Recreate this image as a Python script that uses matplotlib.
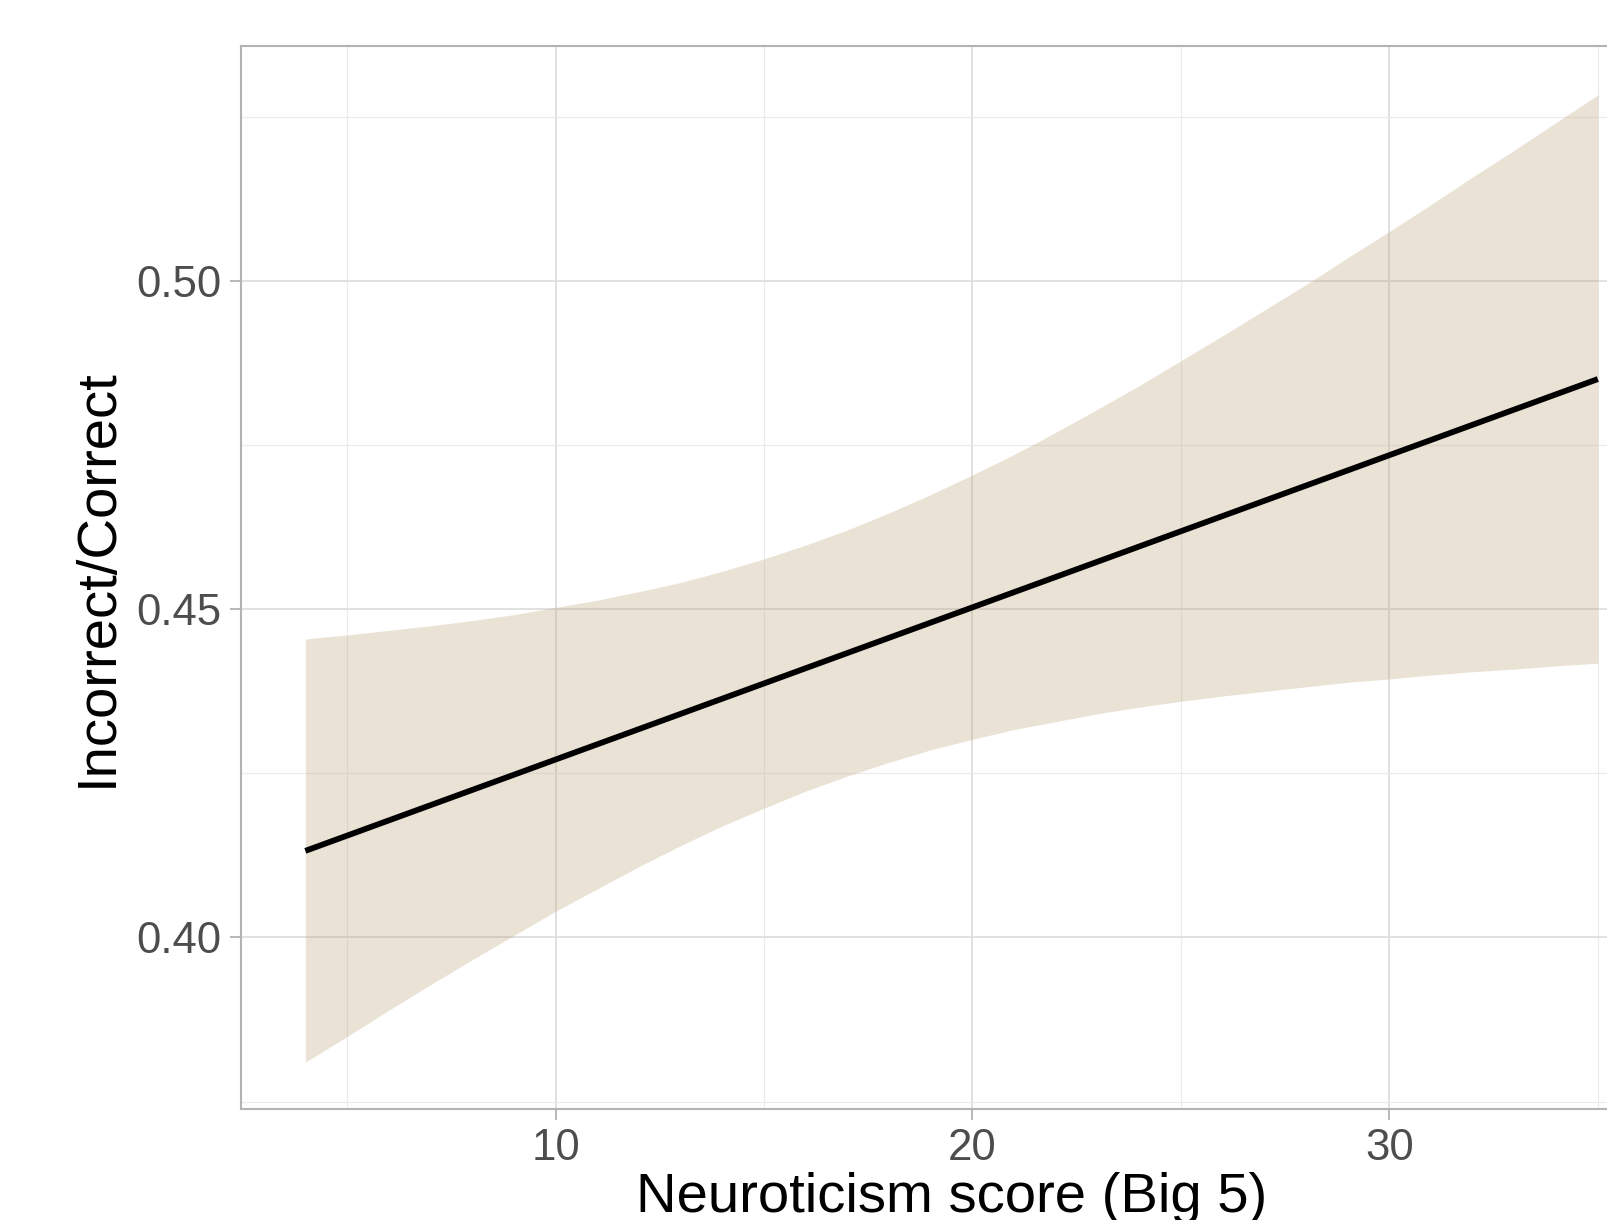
import matplotlib
matplotlib.use("Agg")
import matplotlib.pyplot as plt
from matplotlib.ticker import FixedLocator

# Data
x_vals = [4, 5, 6, 7, 8, 9, 10, 11, 12, 13, 14, 15, 16, 17, 18, 19,
          20, 21, 22, 23, 24, 25, 26, 27, 28, 29, 30, 31, 32, 33, 34, 35]
lower_vals = [0.3810, 0.3849, 0.3889, 0.3928, 0.3966, 0.4003, 0.4040, 0.4074,
              0.4108, 0.4140, 0.4170, 0.4197, 0.4223, 0.4246, 0.4267, 0.4286,
              0.4302, 0.4317, 0.4329, 0.4341, 0.4351, 0.4360, 0.4368, 0.4375,
              0.4382, 0.4389, 0.4394, 0.4400, 0.4405, 0.4409, 0.4414, 0.4418]
upper_vals = [0.4455, 0.4461, 0.4468, 0.4475, 0.4483, 0.4492, 0.4503, 0.4514,
              0.4527, 0.4541, 0.4558, 0.4577, 0.4598, 0.4621, 0.4647, 0.4675,
              0.4705, 0.4736, 0.4770, 0.4805, 0.4841, 0.4879, 0.4917, 0.4956,
              0.4995, 0.5036, 0.5076, 0.5117, 0.5159, 0.5200, 0.5242, 0.5284]
# fitted regression line (straight): end points
line_x = [4, 35]
line_y = [0.4132, 0.4851]
x_ticks = [10, 20, 30]
y_ticks = [0.40, 0.45, 0.50]
y_tick_labels = ["0.40", "0.45", "0.50"]
x_label = "Neuroticism score (Big 5)"
y_label = "Incorrect/Correct"

plt.rcParams['font.family'] = ['Liberation Sans', 'DejaVu Sans']

fig = plt.figure(figsize=(16.07, 12.20), dpi=100)
ax = fig.add_axes([0.1498, 0.0912, 0.8847, 0.8713])

ax.fill_between(x_vals, lower_vals, upper_vals, color=(185/255, 162/255, 118/255),
                alpha=0.3, linewidth=0, zorder=2)
ax.plot(line_x, line_y, color='black', linewidth=4.2, zorder=3,
        solid_capstyle='butt')

ax.set_xlim(2.45, 36.55)
ax.set_ylim(0.3739, 0.5359)

ax.xaxis.set_major_locator(FixedLocator(x_ticks))
ax.xaxis.set_minor_locator(FixedLocator([5, 15, 25, 35]))
ax.yaxis.set_major_locator(FixedLocator(y_ticks))
ax.set_yticklabels(y_tick_labels)
ax.yaxis.set_minor_locator(FixedLocator([0.375, 0.425, 0.475, 0.525]))

ax.grid(True, which='major', color='#DEDEDE', linewidth=1.3, zorder=0)
ax.grid(True, which='minor', color='#EBEBEB', linewidth=0.8, zorder=0)
ax.set_axisbelow(True)

for s in ax.spines.values():
    s.set_color('#B3B3B3')
    s.set_linewidth(1.5)

ax.tick_params(axis='both', which='major', length=8, width=1.3, color='#B3B3B3',
               labelcolor='#4D4D4D', labelsize=31.5, pad=6)
ax.tick_params(axis='both', which='minor', length=0)

ax.set_xlabel(x_label, fontsize=40.5, color='black', labelpad=2)
ax.set_ylabel(y_label, fontsize=40.5, color='black', labelpad=9)

fig.savefig("out.png", dpi=100)
